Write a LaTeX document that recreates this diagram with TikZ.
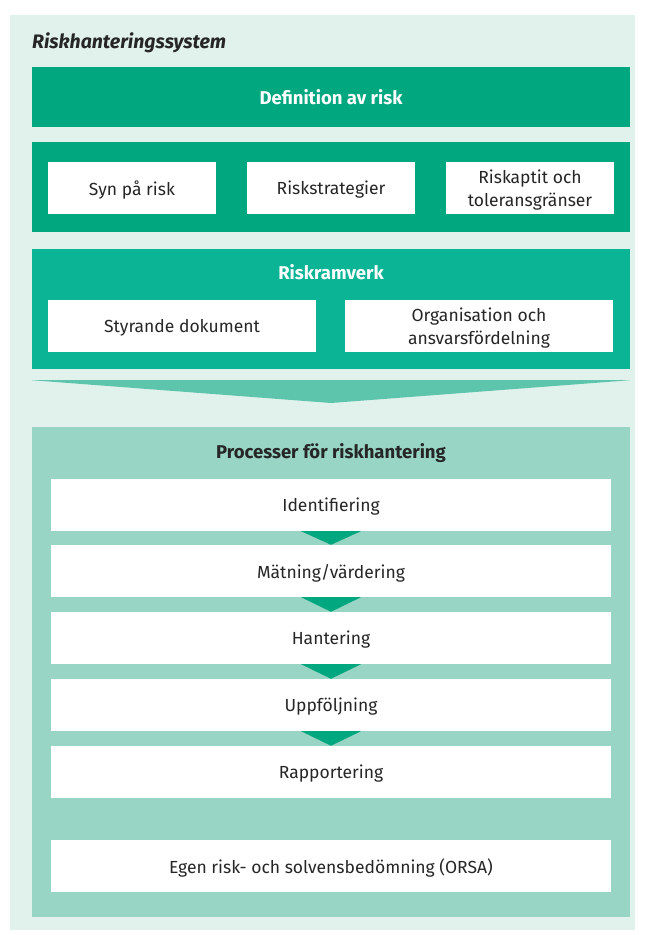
\documentclass[tikz,border=0pt]{standalone}
\usepackage{fontspec}
\setmainfont{Fira Sans}
\usepackage{xcolor}
\definecolor{RiskDark}{HTML}{00A77F}
\definecolor{RiskMid}{HTML}{0AB495}
\definecolor{RiskFunnel}{HTML}{5EC5AD}
\definecolor{RiskPale}{HTML}{99D5C5}
\definecolor{RiskPaper}{HTML}{E1F2EC}
\definecolor{RiskInk}{HTML}{262626}
\usepackage{tikz}
\usetikzlibrary{positioning,calc}
\tikzset{
  rband/.style={fill=#1,inner sep=0pt,minimum width=598pt},
  rhead/.style={text=white,font=\fontsize{18.5}{22}\selectfont\bfseries},
  rwhite/.style={fill=white,inner sep=0pt,align=center,text=RiskInk,font=\fontsize{17.5}{23}\selectfont,minimum height=52pt,text depth=0pt},
  rstep/.style={rwhite,minimum width=560pt},
  rtri/.style={fill=RiskDark}
}

\begin{document}
\begin{tikzpicture}[x=1pt,y=-1pt]
  \useasboundingbox (0,0) rectangle (645,935);
  \fill[RiskPaper] (10,15) rectangle (635,930);
  \node[anchor=west,inner sep=0pt,text=RiskInk,font=\fontsize{19.5}{22}\selectfont\bfseries\itshape] (system) at (32,43) {Riskhanteringssystem};

  % top bands
  \node[rband=RiskDark,minimum height=60pt,rhead,text depth=0pt] (definition) at (331,97) {Definition av risk};
  \node[rband=RiskDark,minimum height=90pt] (synband) at (331,187) {};
  \node[rwhite,minimum width=168pt] (syn) at (132,188) {Syn på risk};
  \node[rwhite,minimum width=168pt] (strategi) at (331,188) {Riskstrategier};
  \node[rwhite,minimum width=168pt] (aptit) at (530,188) {Riskaptit och\\toleransgränser};

  \node[rband=RiskMid,minimum height=120pt] (ramband) at (331,309) {};
  \node[rhead] (ramverk) at (331,272) {Riskramverk};
  \node[rwhite,minimum width=268pt] (styrande) at (182,326) {Styrande dokument};
  \node[rwhite,minimum width=268pt] (organisation) at (479,326) {Organisation och\\ansvarsfördelning};

  % funnel into the processes
  \fill[RiskFunnel] (ramband.south west) ++(0,11) -- ($(ramband.south east)+(0,11)$) -- (331,403) -- cycle;

  \node[rband=RiskPale,minimum height=490pt] (procband) at (331,672) {};
  \node[font=\fontsize{18.5}{22}\selectfont\bfseries,text=RiskInk] (processer) at (331,453) {Processer för riskhantering};
  \node[rstep] (ident) at (331,505) {Identifiering};
  \node[rstep] (matning) at (331,571) {Mätning/värdering};
  \node[rstep] (hantering) at (331,638) {Hantering};
  \node[rstep] (uppfoljning) at (331,705) {Uppföljning};
  \node[rstep] (rapport) at (331,772) {Rapportering};
  \node[rstep] (orsa) at (331,866) {Egen risk- och solvensbedömning (ORSA)};

  \foreach \a/\b in {ident/matning,matning/hantering,hantering/uppfoljning,uppfoljning/rapport}
    \fill[rtri] ($(\a.south)+(-30,0)$) -- ($(\a.south)+(30,0)$) -- (\b.north) -- cycle;
\end{tikzpicture}
\end{document}
